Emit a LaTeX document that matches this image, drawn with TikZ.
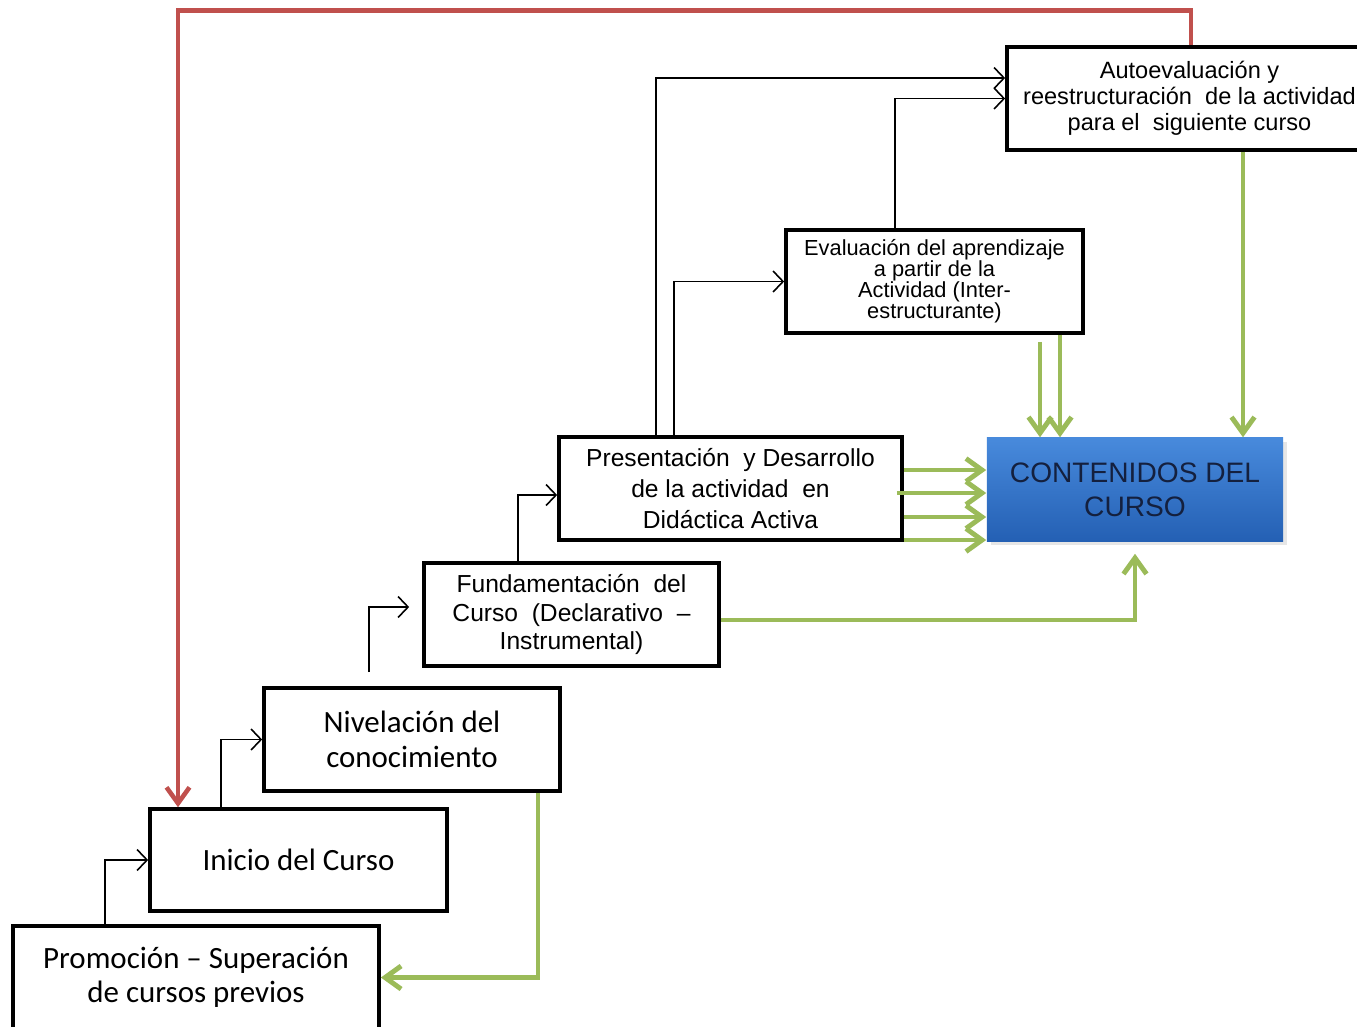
\documentclass[tikz,border=0pt]{standalone}
\usepackage{fontspec}
\setmainfont{Liberation Sans}
\newfontfamily\calib{Carlito}
\usetikzlibrary{arrows.meta,shadows}
\definecolor{grnline}{RGB}{155,187,89}
\definecolor{redline}{RGB}{192,80,77}
\definecolor{bluetop}{RGB}{72,138,220}
\definecolor{bluebot}{RGB}{36,96,180}
\definecolor{navytxt}{RGB}{20,32,62}

\begin{document}
\begin{tikzpicture}[x=0.01cm, y=-0.01cm,
  box/.style={draw, line width=1pt, align=center, inner sep=0pt},
  conn/.style={line width=0.45pt, -{Straight Barb[length=1mm,width=2.1mm]}},
  grn/.style={grnline, line width=1.4pt, -{Straight Barb[length=1.6mm,width=2.3mm]}},
  back/.style={redline, line width=1.3pt, -{Straight Barb[length=1.6mm,width=2.3mm]}}]
\useasboundingbox (0,0) rectangle (1357,1026);

% Steps
\node[box, minimum width=3.66cm, minimum height=1.03cm,
  font=\calib\fontsize{8.8}{9.8}\selectfont] (promo) at (196,977.5)
  {Promoción – Superación\\de cursos previos};
\node[box, minimum width=2.97cm, minimum height=1.02cm,
  font=\calib\fontsize{8.8}{9.8}\selectfont] (inicio) at (298.5,860) {Inicio del Curso};
\node[box, minimum width=2.96cm, minimum height=1.03cm,
  font=\calib\fontsize{8.8}{9.8}\selectfont] (niv) at (412,739.5)
  {Nivelación del\\conocimiento};
\node[box, minimum width=2.95cm, minimum height=1.03cm,
  font=\fontsize{7}{8}\selectfont] (fund) at (571.5,614.5)
  {Fundamentación\ \ del\\Curso\ \ (Declarativo\ \ –\\Instrumental)};
\node[box, minimum width=3.43cm, minimum height=1.03cm,
  font=\fontsize{7}{8.7}\selectfont] (pres) at (730.5,488.5)
  {Presentación\ \ y Desarrollo\\de la actividad\ \ en\\Didáctica Activa};
\node[box, minimum width=2.97cm, minimum height=1.03cm,
  font=\fontsize{6.2}{6}\selectfont] (eval) at (934.5,281.5)
  {Evaluación del aprendizaje\\a partir de la\\Actividad (Inter-\\estructurante)};
\node[box, minimum width=3.65cm, minimum height=1.03cm,
  font=\fontsize{6.7}{7.4}\selectfont] (auto) at (1189.5,98.5)
  {Autoevaluación y\\reestructuración\ \ de la actividad\\para el\ \ siguiente curso};

% Contents
\node[inner sep=0pt, minimum width=2.96cm, minimum height=1.03cm, align=center,
  top color=bluetop, bottom color=bluebot, text=navytxt,
  drop shadow={opacity=0.2, shadow xshift=0.4mm, shadow yshift=-0.4mm},
  font=\fontsize{8}{9.6}\selectfont] (cont) at (1135,489.5)
  {CONTENIDOS DEL\\CURSO};

% Sequence
\draw[conn] (promo.north -| 105,0) |- (inicio.west);
\draw[conn] (inicio.north -| 221,0) |- (niv.west);
\coordinate (nf) at (369,672);
\draw[conn] (nf) |- ([xshift=-1.3mm,yshift=0.75mm]fund.west);
\draw[conn] (fund.north -| 518,0) |- ([yshift=-0.65mm]pres.west);
\draw[conn] (pres.north -| 674,0) |- (eval.west);
\draw[conn] (pres.north -| 656,0) |- ([yshift=2.05mm]auto.west);
\draw[conn] (eval.north -| 895,0) |- (auto.west);

% Into the contents
\draw[grn] (eval.south -| 1040,0) ++(0,7) -- (cont.north -| 1040,0);
\draw[grn] (eval.south -| 1060,0) -- (cont.north -| 1060,0);
\draw[grn] (auto.south -| 1243,0) -- (cont.north -| 1243,0);
\draw[grn] (pres.east |- 0,470) -- (cont.west |- 0,470);
\draw[grn] (pres.east |- 0,493) ++(-7,0) -- (cont.west |- 0,493);
\draw[grn] (pres.east |- 0,517) -- (cont.west |- 0,517);
\draw[grn] (pres.east |- 0,540) -- (cont.west |- 0,540);
\draw[grn] (fund.east |- 0,620) -| ([yshift=-1.2mm]cont.south);
\draw[grn] (niv.south -| 538,0) |- (promo.east);

% Back to the start
\draw[back] (auto.north -| 1191,0) -- ++(0,-35) -| (inicio.north -| 178,0);
\end{tikzpicture}
\end{document}
